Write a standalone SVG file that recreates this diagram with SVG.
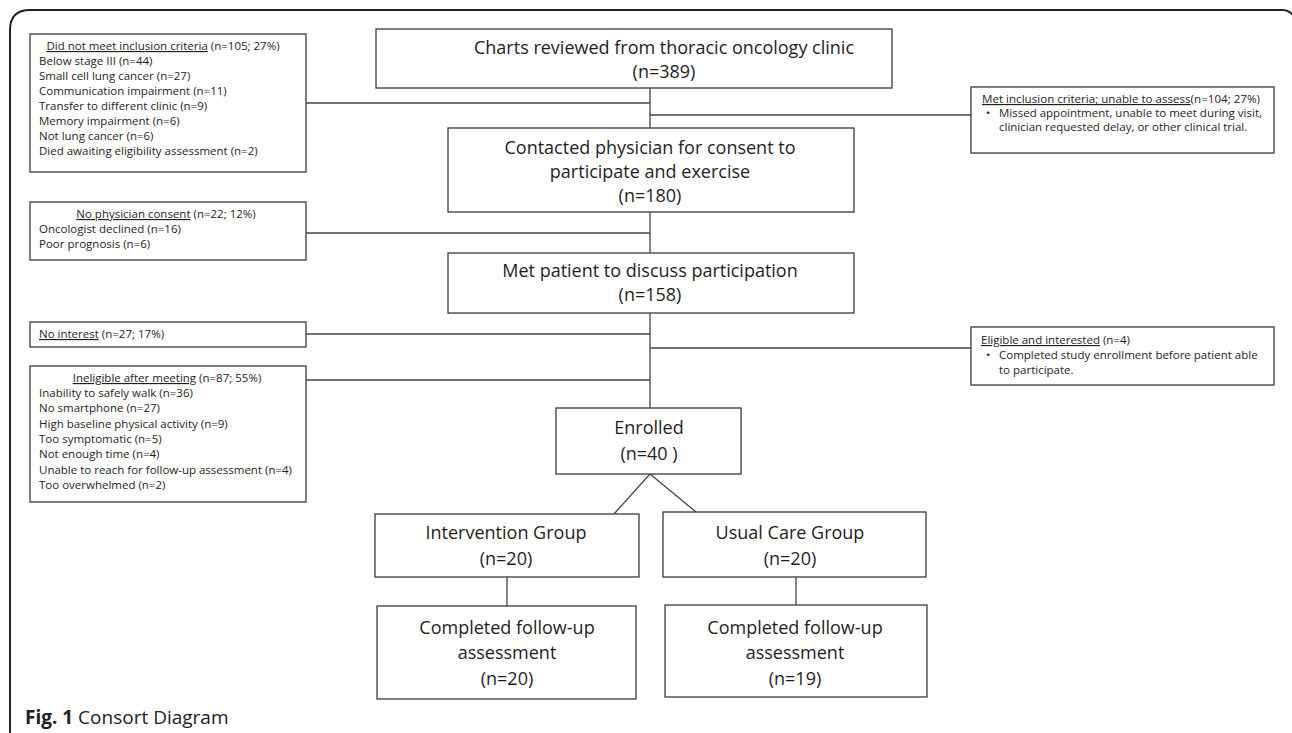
<svg xmlns="http://www.w3.org/2000/svg" width="1292" height="733" viewBox="0 0 1292 733">
<style>
.frame{fill:none;stroke:#222;stroke-width:2}
.box{fill:#fff;stroke:#3a3a3a;stroke-width:1.3}
.ln{fill:none;stroke:#444;stroke-width:1.3}
.big{font-family:"Open Sans","Liberation Sans",sans-serif;font-size:18px;fill:#1e1e1e;text-anchor:middle}
.sm{font-family:"Open Sans","Liberation Sans",sans-serif;font-size:11.5px;fill:#1e1e1e}
.u{text-decoration:underline}
.cap{font-family:"Open Sans","Liberation Sans",sans-serif;font-size:19px;fill:#222}
</style>
<rect width="1292" height="733" fill="#fff"/>
<path class="frame" d="M10,733 V30 Q10,10 30,10 H1282 Q1292,10 1295,20"/>

<g id="connectors">
<line class="ln" x1="650" y1="88" x2="650" y2="128"/>
<line class="ln" x1="650" y1="212" x2="650" y2="253"/>
<line class="ln" x1="650" y1="313" x2="650" y2="408"/>
<line class="ln" x1="306" y1="103" x2="650" y2="103"/>
<line class="ln" x1="650" y1="115" x2="971" y2="115"/>
<line class="ln" x1="306" y1="233" x2="650" y2="233"/>
<line class="ln" x1="306" y1="334" x2="650" y2="334"/>
<line class="ln" x1="306" y1="380" x2="650" y2="380"/>
<line class="ln" x1="650" y1="348" x2="971" y2="348"/>
<line class="ln" x1="650" y1="474" x2="614" y2="514"/>
<line class="ln" x1="650" y1="474" x2="696" y2="512"/>
<line class="ln" x1="507" y1="577" x2="507" y2="606"/>
<line class="ln" x1="796" y1="577" x2="796" y2="605"/>
</g>

<g id="excluded1">
<rect class="box" x="30" y="34" width="276" height="138"/>
<text class="sm" x="163" y="50" text-anchor="middle"><tspan class="u">Did not meet  inclusion criteria</tspan> (n=105; 27%)</text>
<text class="sm" x="39" y="65">Below stage III (n=44)</text>
<text class="sm" x="39" y="80">Small cell lung cancer (n=27)</text>
<text class="sm" x="39" y="95">Communication impairment (n=11)</text>
<text class="sm" x="39" y="110">Transfer to different clinic (n=9)</text>
<text class="sm" x="39" y="125">Memory  impairment (n=6)</text>
<text class="sm" x="39" y="140">Not lung cancer (n=6)</text>
<text class="sm" x="39" y="155">Died awaiting eligibility assessment (n=2)</text>
</g>

<g id="charts">
<rect class="box" x="376" y="29" width="516" height="59"/>
<text class="big" x="664" y="54">Charts reviewed  from thoracic oncology clinic</text>
<text class="big" x="664" y="78">(n=389)</text>
</g>

<g id="unable">
<rect class="box" x="971" y="87" width="303" height="66"/>
<text class="sm" x="982" y="103" textLength="278" lengthAdjust="spacingAndGlyphs"><tspan class="u">Met  inclusion criteria; unable to assess</tspan>(n=104; 27%)</text>
<text class="sm" x="986" y="117">•</text>
<text class="sm" x="999" y="117">Missed appointment, unable to meet  during visit,</text>
<text class="sm" x="999" y="131">clinician requested delay, or other  clinical trial.</text>
</g>

<g id="contacted">
<rect class="box" x="448" y="128" width="406" height="84"/>
<text class="big" x="650" y="154">Contacted physician for consent to</text>
<text class="big" x="650" y="178">participate and exercise</text>
<text class="big" x="650" y="202">(n=180)</text>
</g>

<g id="noconsent">
<rect class="box" x="30" y="202" width="276" height="58"/>
<text class="sm" x="166" y="218" text-anchor="middle"><tspan class="u">No physician consent</tspan> (n=22; 12%)</text>
<text class="sm" x="39" y="233">Oncologist declined (n=16)</text>
<text class="sm" x="39" y="248">Poor prognosis (n=6)</text>
</g>

<g id="met">
<rect class="box" x="448" y="253" width="406" height="60"/>
<text class="big" x="650" y="277">Met patient to discuss participation</text>
<text class="big" x="650" y="301">(n=158)</text>
</g>

<g id="nointerest">
<rect class="box" x="30" y="322" width="276" height="25"/>
<text class="sm" x="39" y="338"><tspan class="u">No  interest</tspan>  (n=27; 17%)</text>
</g>

<g id="eligible">
<rect class="box" x="971" y="327" width="303" height="58"/>
<text class="sm" x="981" y="344"><tspan class="u">Eligible and interested</tspan> (n=4)</text>
<text class="sm" x="986" y="359">•</text>
<text class="sm" x="999" y="359">Completed  study enrollment before patient able</text>
<text class="sm" x="999" y="374">to participate.</text>
</g>

<g id="ineligible">
<rect class="box" x="30" y="366" width="276" height="136"/>
<text class="sm" x="167" y="382" text-anchor="middle"><tspan class="u">Ineligible after meeting</tspan>  (n=87; 55%)</text>
<text class="sm" x="39" y="397">Inability to safely walk (n=36)</text>
<text class="sm" x="39" y="412">No smartphone (n=27)</text>
<text class="sm" x="39" y="428">High baseline physical activity (n=9)</text>
<text class="sm" x="39" y="443">Too symptomatic (n=5)</text>
<text class="sm" x="39" y="458">Not enough time (n=4)</text>
<text class="sm" x="39" y="474">Unable to reach for follow-up assessment (n=4)</text>
<text class="sm" x="39" y="489">Too overwhelmed  (n=2)</text>
</g>

<g id="enrolled">
<rect class="box" x="556" y="408" width="185" height="66"/>
<text class="big" x="649" y="434">Enrolled</text>
<text class="big" x="649" y="460">(n=40 )</text>
</g>

<g id="intervention">
<rect class="box" x="375" y="514" width="264" height="63"/>
<text class="big" x="506" y="539">Intervention  Group</text>
<text class="big" x="506" y="565">(n=20)</text>
</g>

<g id="usualcare">
<rect class="box" x="663" y="512" width="263" height="65"/>
<text class="big" x="790" y="539">Usual Care Group</text>
<text class="big" x="790" y="565">(n=20)</text>
</g>

<g id="followup1">
<rect class="box" x="377" y="606" width="259" height="93"/>
<text class="big" x="507" y="634">Completed follow-up</text>
<text class="big" x="507" y="659">assessment</text>
<text class="big" x="507" y="685">(n=20)</text>
</g>

<g id="followup2">
<rect class="box" x="665" y="605" width="262" height="92"/>
<text class="big" x="795" y="634">Completed follow-up</text>
<text class="big" x="795" y="659">assessment</text>
<text class="big" x="795" y="685">(n=19)</text>
</g>

<text class="cap" x="25" y="724"><tspan font-weight="bold">Fig. 1</tspan> Consort Diagram</text>
</svg>
